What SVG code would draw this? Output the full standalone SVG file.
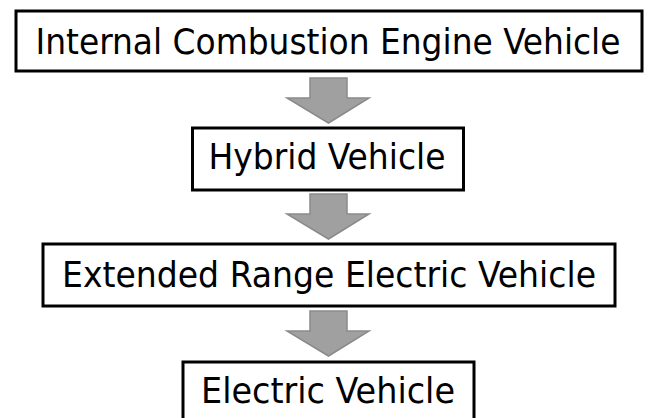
<svg xmlns="http://www.w3.org/2000/svg" width="649" height="418" viewBox="0 0 649 418">
<style>
.box{fill:#fff;stroke:#000;stroke-width:3}
.lbl{font-family:"DejaVu Sans Condensed","DejaVu Sans",sans-serif;font-stretch:condensed;font-size:36px;fill:#000;text-anchor:middle}
.arr{fill:#a0a0a0;stroke:#8a8a8a;stroke-width:1.5;stroke-linejoin:miter}
</style>
<rect width="649" height="418" fill="#fff"/>
<g id="connectors">
<path class="arr" d="M310,78 H347 V98 H369 L328.5,123 L287,98 H310 Z"/>
<path class="arr" d="M310,194 H347 V214 H369 L328.5,239 L287,214 H310 Z"/>
<path class="arr" d="M310,311 H347 V331 H369 L328.5,356 L287,331 H310 Z"/>
</g>
<g id="node-ice">
<rect class="box" x="16" y="11" width="626" height="60"/>
<text class="lbl" x="328" y="54" textLength="585" lengthAdjust="spacingAndGlyphs">Internal Combustion Engine Vehicle</text>
</g>
<g id="node-hybrid">
<rect class="box" x="192.5" y="128" width="271" height="62"/>
<text class="lbl" x="327" y="169" textLength="237" lengthAdjust="spacingAndGlyphs">Hybrid Vehicle</text>
</g>
<g id="node-erev">
<rect class="box" x="43" y="244" width="572" height="62"/>
<text class="lbl" x="329" y="287" textLength="534" lengthAdjust="spacingAndGlyphs">Extended Range Electric Vehicle</text>
</g>
<g id="node-ev">
<rect class="box" x="183" y="362" width="291" height="62"/>
<text class="lbl" x="328" y="403" textLength="254" lengthAdjust="spacingAndGlyphs">Electric Vehicle</text>
</g>
</svg>
